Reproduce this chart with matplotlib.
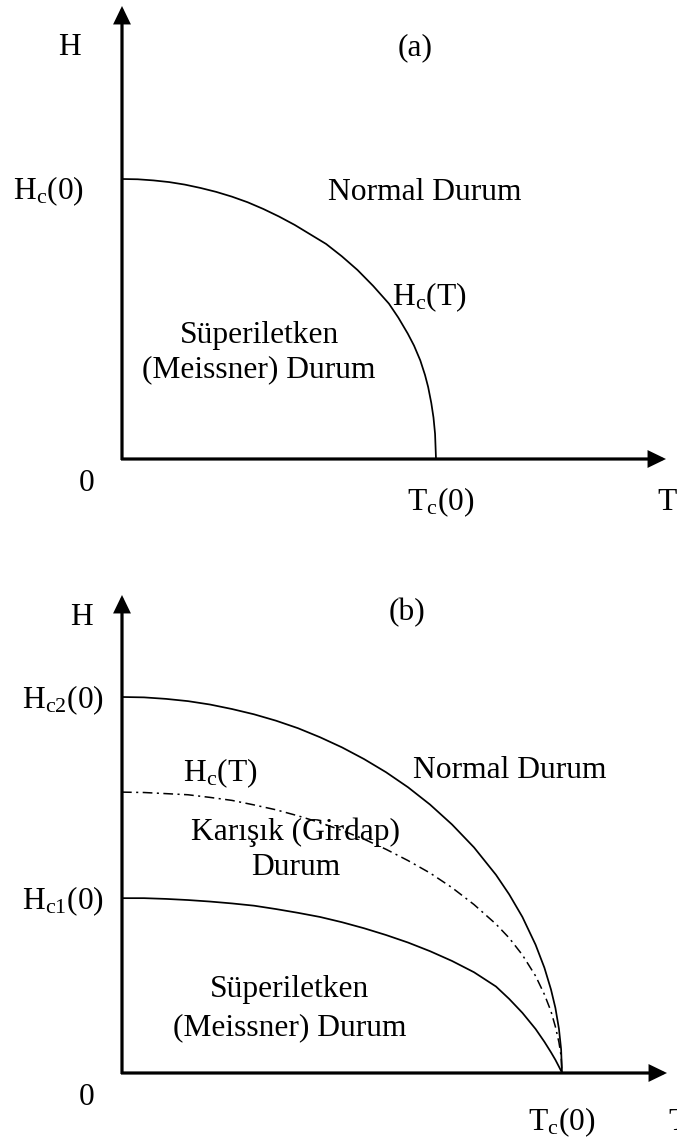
import matplotlib
matplotlib.use("Agg")
import matplotlib.pyplot as plt
from matplotlib.patches import FancyArrowPatch, ArrowStyle

plt.rcParams['font.family'] = ['Liberation Serif', 'DejaVu Serif']
plt.rcParams['mathtext.fontset'] = 'custom'
plt.rcParams['mathtext.rm'] = 'Liberation Serif'
plt.rcParams['mathtext.it'] = 'Liberation Serif:italic'
plt.rcParams['lines.scale_dashes'] = False

# ---------------- data ----------------
# Panel (a): T / Tc(0) and H / Hc(0)
T_a = [0.00, 0.05, 0.10, 0.15, 0.20, 0.25, 0.30, 0.35, 0.40, 0.45, 0.50,
       0.55, 0.60, 0.65, 0.70, 0.75, 0.80, 0.85, 0.88, 0.91, 0.93, 0.95,
       0.965, 0.975, 0.985, 0.992, 0.997, 1.00]
Hc_a = [1.000, 0.999, 0.995, 0.989, 0.980, 0.968, 0.954, 0.937, 0.917,
        0.893, 0.866, 0.836, 0.802, 0.768, 0.724, 0.675, 0.618, 0.555,
        0.505, 0.448, 0.405, 0.352, 0.300, 0.257, 0.200, 0.148, 0.090, 0.0]

# Panel (b): T / Tc(0); fields in units of Hc2(0)
T_b = [0.00, 0.05, 0.10, 0.15, 0.20, 0.25, 0.30, 0.35, 0.40, 0.45, 0.50,
       0.55, 0.60, 0.65, 0.70, 0.75, 0.80, 0.85, 0.88, 0.91, 0.94, 0.96,
       0.975, 0.985, 0.993, 0.998, 1.00]
Hc2_b = [1.000, 0.999, 0.995, 0.989, 0.980, 0.968, 0.954, 0.937, 0.917,
         0.893, 0.866, 0.835, 0.800, 0.760, 0.714, 0.661, 0.600, 0.527,
         0.475, 0.415, 0.341, 0.280, 0.222, 0.173, 0.118, 0.063, 0.0]
Hc_b = [0.747, 0.746, 0.743, 0.740, 0.733, 0.725, 0.713, 0.700, 0.684,
        0.666, 0.645, 0.622, 0.595, 0.565, 0.532, 0.493, 0.448, 0.396,
        0.359, 0.314, 0.258, 0.209, 0.164, 0.123, 0.082, 0.045, 0.0]
Hc1_b = [0.465, 0.465, 0.463, 0.460, 0.456, 0.451, 0.445, 0.436, 0.426,
         0.415, 0.401, 0.385, 0.367, 0.347, 0.324, 0.298, 0.268, 0.230,
         0.197, 0.160, 0.117, 0.083, 0.055, 0.035, 0.017, 0.0055, 0.0]

# ---------------- figure ----------------
W, H = 677, 1142
DPI = 100
fig = plt.figure(figsize=(W / DPI, H / DPI), dpi=DPI)
FS = 22.7
AX_LW = 2.3
CURVE_LW = 1.25


def make_axes(top_px, bot_px, x0_px, tc_px, base_px, h1_px):
    ax = fig.add_axes([0, 1 - bot_px / H, 1, (bot_px - top_px) / H])
    sx = tc_px - x0_px
    sy = base_px - h1_px
    ax.set_xlim((0 - x0_px) / sx, (W - x0_px) / sx)
    ax.set_ylim((base_px - bot_px) / sy, (base_px - top_px) / sy)
    ax.axis('off')

    def P(px, py):
        return ((px - x0_px) / sx, (base_px - py) / sy)
    return ax, P


def axis_arrows(ax, P, ytip_px, xtip_px, base_px, x0_px):
    style = ArrowStyle('-|>', head_length=9.5, head_width=4.6)
    for start, end in [(P(x0_px, base_px + 1), P(x0_px, ytip_px)),
                       (P(x0_px - 1, base_px), P(xtip_px, base_px))]:
        a = FancyArrowPatch(start, end, arrowstyle=style, mutation_scale=1,
                            lw=AX_LW, color='black', shrinkA=0, shrinkB=0,
                            joinstyle='miter', capstyle='butt')
        ax.add_patch(a)


def txt(ax, P, px, py, s, ha='center'):
    x, y = P(px, py)
    ax.text(x, y, s, fontsize=FS, ha=ha, va='baseline', color='black')


# ---------------- panel (a) ----------------
axA, PA = make_axes(0, 571, 122, 436, 459, 179)
axis_arrows(axA, PA, 6, 666, 459, 122)
axA.plot(T_a, Hc_a, color='black', lw=CURVE_LW, solid_capstyle='butt',
         solid_joinstyle='round')
txt(axA, PA, 69, 55, 'H')
txt(axA, PA, 415, 55, '(a)')
txt(axA, PA, 13, 199, r'$\mathrm{H_{c}(0)}$', ha='left')
txt(axA, PA, 328, 200, 'Normal Durum', ha='left')
txt(axA, PA, 392, 305, r'$\mathrm{H_{c}(T)}$', ha='left')
txt(axA, PA, 260, 343, 'Süperiletken')
txt(axA, PA, 259, 377, '(Meissner) Durum')
txt(axA, PA, 87, 491, '0')
txt(axA, PA, 407, 510, r'$\mathrm{T_{c}(0)}$', ha='left')
txt(axA, PA, 657, 510, 'T', ha='left')

# ---------------- panel (b) ----------------
axB, PB = make_axes(571, 1142, 122, 562, 1073, 697)
axis_arrows(axB, PB, 595, 667, 1073, 122)
axB.plot(T_b, Hc2_b, color='black', lw=CURVE_LW, solid_capstyle='butt',
         solid_joinstyle='round')
axB.plot(T_b, Hc1_b, color='black', lw=CURVE_LW, solid_capstyle='butt',
         solid_joinstyle='round')
axB.plot(T_b, Hc_b, color='black', lw=1.1, dashes=[7, 3.2, 1.5, 3.2])
txt(axB, PB, 81, 625, 'H')
txt(axB, PB, 407, 620, '(b)')
txt(axB, PB, 22, 708, r'$\mathrm{H_{c2}(0)}$', ha='left')
txt(axB, PB, 413, 778, 'Normal Durum', ha='left')
txt(axB, PB, 183, 781, r'$\mathrm{H_{c}(T)}$', ha='left')
txt(axB, PB, 296, 840, 'Karışık (Girdap)')
txt(axB, PB, 296, 875, 'Durum')
txt(axB, PB, 22, 909, r'$\mathrm{H_{c1}(0)}$', ha='left')
txt(axB, PB, 290, 997, 'Süperiletken')
txt(axB, PB, 290, 1035, '(Meissner) Durum')
txt(axB, PB, 87, 1105, '0')
txt(axB, PB, 528, 1130, r'$\mathrm{T_{c}(0)}$', ha='left')
txt(axB, PB, 668, 1130, 'T', ha='left')

fig.savefig('out.png', dpi=DPI, facecolor='white')
